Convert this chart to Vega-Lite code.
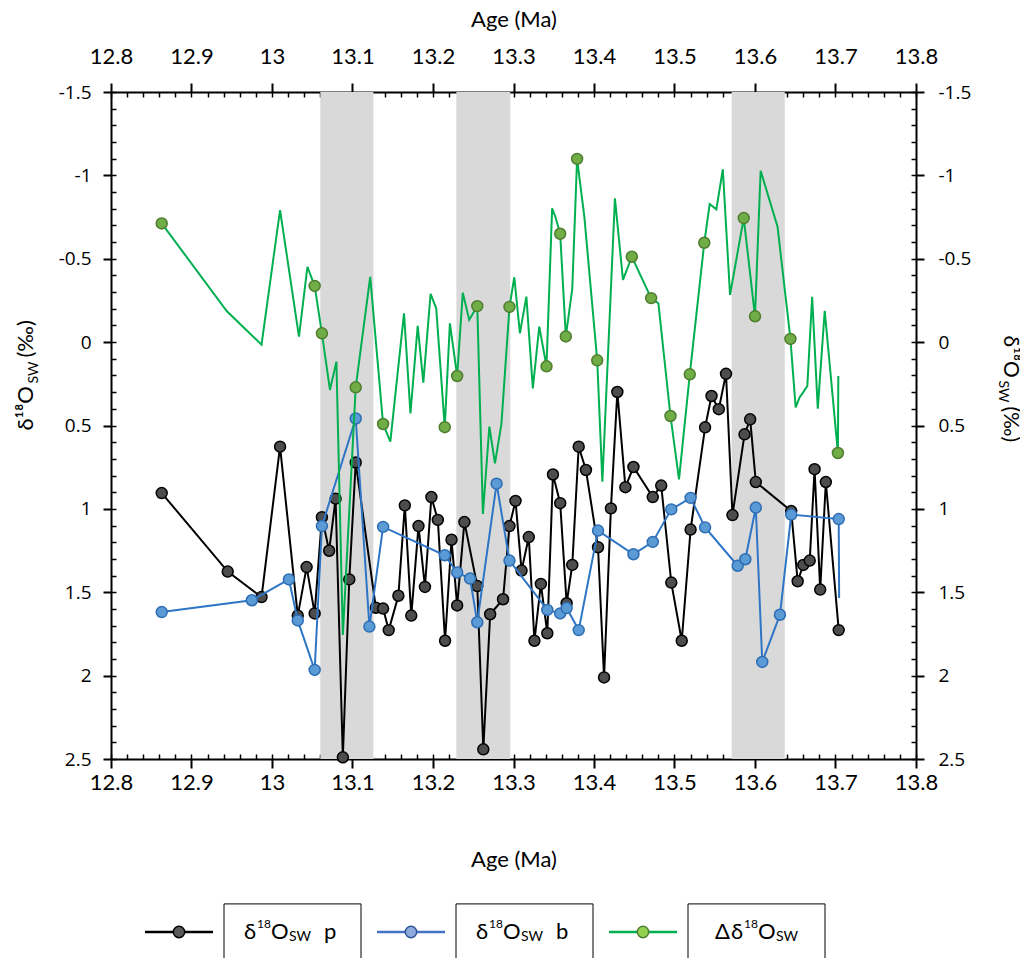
{
  "$schema": "https://vega.github.io/schema/vega-lite/v6.json",
  "background": "white",
  "padding": {"left": 14, "top": 8, "right": 0, "bottom": 0},
  "config": {
    "view": {"stroke": null},
    "axis": {"grid": false, "domainColor": "#000000", "tickColor": "#000000", "labelColor": "#000000", "titleColor": "#000000", "titleFontWeight": "normal"}
  },
  "datasets": {
    "bands": [
      {"start": 13.06, "end": 13.126},
      {"start": 13.229, "end": 13.296},
      {"start": 13.571, "end": 13.637}
    ],
    "p": [
      {"age": 12.863, "v": 0.905}, {"age": 12.945, "v": 1.376}, {"age": 12.987, "v": 1.529},
      {"age": 13.01, "v": 0.627}, {"age": 13.032, "v": 1.64}, {"age": 13.043, "v": 1.349},
      {"age": 13.053, "v": 1.627}, {"age": 13.062, "v": 1.05}, {"age": 13.071, "v": 1.251},
      {"age": 13.079, "v": 0.939}, {"age": 13.088, "v": 2.49}, {"age": 13.096, "v": 1.423},
      {"age": 13.104, "v": 0.722}, {"age": 13.129, "v": 1.593}, {"age": 13.138, "v": 1.598},
      {"age": 13.145, "v": 1.727}, {"age": 13.157, "v": 1.521}, {"age": 13.165, "v": 0.979},
      {"age": 13.173, "v": 1.64}, {"age": 13.182, "v": 1.103}, {"age": 13.19, "v": 1.468},
      {"age": 13.198, "v": 0.929}, {"age": 13.206, "v": 1.066}, {"age": 13.215, "v": 1.791},
      {"age": 13.223, "v": 1.185}, {"age": 13.23, "v": 1.579}, {"age": 13.239, "v": 1.079},
      {"age": 13.255, "v": 1.463}, {"age": 13.2625, "v": 2.442}, {"age": 13.271, "v": 1.632},
      {"age": 13.287, "v": 1.542}, {"age": 13.295, "v": 1.103}, {"age": 13.3025, "v": 0.952},
      {"age": 13.31, "v": 1.37}, {"age": 13.319, "v": 1.169}, {"age": 13.326, "v": 1.791},
      {"age": 13.334, "v": 1.45}, {"age": 13.342, "v": 1.746}, {"age": 13.349, "v": 0.794},
      {"age": 13.358, "v": 0.966}, {"age": 13.366, "v": 1.566}, {"age": 13.373, "v": 1.336},
      {"age": 13.381, "v": 0.627}, {"age": 13.39, "v": 0.767}, {"age": 13.405, "v": 1.23},
      {"age": 13.4125, "v": 2.011}, {"age": 13.421, "v": 0.997}, {"age": 13.429, "v": 0.299},
      {"age": 13.439, "v": 0.87}, {"age": 13.449, "v": 0.749}, {"age": 13.473, "v": 0.929},
      {"age": 13.4835, "v": 0.86}, {"age": 13.496, "v": 1.442}, {"age": 13.509, "v": 1.791},
      {"age": 13.52, "v": 1.124}, {"age": 13.538, "v": 0.511}, {"age": 13.546, "v": 0.323},
      {"age": 13.555, "v": 0.402}, {"age": 13.564, "v": 0.19}, {"age": 13.572, "v": 1.037},
      {"age": 13.587, "v": 0.553}, {"age": 13.594, "v": 0.463}, {"age": 13.601, "v": 0.839},
      {"age": 13.645, "v": 1.013}, {"age": 13.653, "v": 1.434}, {"age": 13.66, "v": 1.336},
      {"age": 13.668, "v": 1.31}, {"age": 13.674, "v": 0.762}, {"age": 13.681, "v": 1.484},
      {"age": 13.688, "v": 0.839}, {"age": 13.704, "v": 1.727}
    ],
    "b": [
      {"age": 12.863, "v": 1.619}, {"age": 12.975, "v": 1.548}, {"age": 13.021, "v": 1.423},
      {"age": 13.032, "v": 1.669}, {"age": 13.053, "v": 1.966}, {"age": 13.062, "v": 1.103},
      {"age": 13.104, "v": 0.458}, {"age": 13.121, "v": 1.706}, {"age": 13.138, "v": 1.108},
      {"age": 13.2146, "v": 1.278}, {"age": 13.23, "v": 1.381}, {"age": 13.246, "v": 1.418},
      {"age": 13.255, "v": 1.68}, {"age": 13.279, "v": 0.849}, {"age": 13.295, "v": 1.31},
      {"age": 13.342, "v": 1.606}, {"age": 13.358, "v": 1.627}, {"age": 13.366, "v": 1.595},
      {"age": 13.381, "v": 1.727}, {"age": 13.405, "v": 1.13}, {"age": 13.449, "v": 1.272},
      {"age": 13.473, "v": 1.198}, {"age": 13.496, "v": 1.003}, {"age": 13.52, "v": 0.934},
      {"age": 13.538, "v": 1.111}, {"age": 13.5785, "v": 1.341}, {"age": 13.588, "v": 1.302},
      {"age": 13.601, "v": 0.992}, {"age": 13.609, "v": 1.918}, {"age": 13.631, "v": 1.635},
      {"age": 13.645, "v": 1.034}, {"age": 13.704, "v": 1.061}
    ],
    "bline": [
      {"age": 12.863, "v": 1.619}, {"age": 12.975, "v": 1.548}, {"age": 13.021, "v": 1.423},
      {"age": 13.032, "v": 1.669}, {"age": 13.053, "v": 1.966}, {"age": 13.062, "v": 1.103},
      {"age": 13.104, "v": 0.458}, {"age": 13.121, "v": 1.706}, {"age": 13.138, "v": 1.108},
      {"age": 13.2146, "v": 1.278}, {"age": 13.23, "v": 1.381}, {"age": 13.246, "v": 1.418},
      {"age": 13.255, "v": 1.68}, {"age": 13.279, "v": 0.849}, {"age": 13.295, "v": 1.31},
      {"age": 13.342, "v": 1.606}, {"age": 13.358, "v": 1.627}, {"age": 13.366, "v": 1.595},
      {"age": 13.381, "v": 1.727}, {"age": 13.405, "v": 1.13}, {"age": 13.449, "v": 1.272},
      {"age": 13.473, "v": 1.198}, {"age": 13.496, "v": 1.003}, {"age": 13.52, "v": 0.934},
      {"age": 13.538, "v": 1.111}, {"age": 13.5785, "v": 1.341}, {"age": 13.588, "v": 1.302},
      {"age": 13.601, "v": 0.992}, {"age": 13.609, "v": 1.918}, {"age": 13.631, "v": 1.635},
      {"age": 13.645, "v": 1.034}, {"age": 13.704, "v": 1.061}, {"age": 13.7045, "v": 1.534}
    ],
    "dline": [
      {"age": 12.863, "v": -0.712}, {"age": 12.944, "v": -0.185}, {"age": 12.987, "v": 0.015},
      {"age": 13.01, "v": -0.792}, {"age": 13.0335, "v": -0.033}, {"age": 13.044, "v": -0.452},
      {"age": 13.053, "v": -0.337}, {"age": 13.062, "v": -0.053}, {"age": 13.072, "v": 0.287},
      {"age": 13.08, "v": 0.117}, {"age": 13.088, "v": 1.756}, {"age": 13.104, "v": 0.271},
      {"age": 13.122, "v": -0.392}, {"age": 13.138, "v": 0.491}, {"age": 13.147, "v": 0.597},
      {"age": 13.164, "v": -0.173}, {"age": 13.172, "v": 0.427}, {"age": 13.181, "v": -0.098},
      {"age": 13.188, "v": 0.243}, {"age": 13.197, "v": -0.289}, {"age": 13.204, "v": -0.203},
      {"age": 13.2146, "v": 0.51}, {"age": 13.221, "v": -0.113}, {"age": 13.23, "v": 0.203},
      {"age": 13.237, "v": -0.296}, {"age": 13.245, "v": -0.133}, {"age": 13.255, "v": -0.216},
      {"age": 13.262, "v": 1.03}, {"age": 13.27, "v": 0.507}, {"age": 13.277, "v": 0.727},
      {"age": 13.285, "v": 0.49}, {"age": 13.295, "v": -0.211}, {"age": 13.301, "v": -0.389},
      {"age": 13.308, "v": -0.053}, {"age": 13.316, "v": -0.273}, {"age": 13.324, "v": 0.277},
      {"age": 13.332, "v": -0.093}, {"age": 13.341, "v": 0.145}, {"age": 13.348, "v": -0.802},
      {"age": 13.352, "v": -0.752}, {"age": 13.358, "v": -0.65}, {"age": 13.365, "v": -0.034},
      {"age": 13.373, "v": -0.32}, {"age": 13.379, "v": -1.099}, {"age": 13.388, "v": -0.752},
      {"age": 13.404, "v": 0.109}, {"age": 13.4104, "v": 0.837}, {"age": 13.426, "v": -0.862},
      {"age": 13.436, "v": -0.373}, {"age": 13.447, "v": -0.512}, {"age": 13.471, "v": -0.264},
      {"age": 13.48, "v": -0.233}, {"age": 13.495, "v": 0.443}, {"age": 13.5056, "v": 0.823},
      {"age": 13.519, "v": 0.193}, {"age": 13.537, "v": -0.596}, {"age": 13.5437, "v": -0.828},
      {"age": 13.552, "v": -0.796}, {"age": 13.56, "v": -1.036}, {"age": 13.569, "v": -0.283},
      {"age": 13.586, "v": -0.744}, {"age": 13.6, "v": -0.155}, {"age": 13.607, "v": -1.028},
      {"age": 13.628, "v": -0.692}, {"age": 13.644, "v": -0.019}, {"age": 13.6505, "v": 0.391},
      {"age": 13.6555, "v": 0.33}, {"age": 13.66, "v": 0.3}, {"age": 13.665, "v": 0.263},
      {"age": 13.671, "v": -0.272}, {"age": 13.678, "v": 0.399}, {"age": 13.6866, "v": -0.188},
      {"age": 13.703, "v": 0.665}, {"age": 13.7035, "v": 0.203}
    ],
    "dpts": [
      {"age": 12.863, "v": -0.712}, {"age": 13.053, "v": -0.337}, {"age": 13.062, "v": -0.053},
      {"age": 13.104, "v": 0.271}, {"age": 13.138, "v": 0.491}, {"age": 13.2146, "v": 0.51},
      {"age": 13.23, "v": 0.203}, {"age": 13.255, "v": -0.216}, {"age": 13.295, "v": -0.211},
      {"age": 13.341, "v": 0.145}, {"age": 13.358, "v": -0.65}, {"age": 13.365, "v": -0.034},
      {"age": 13.379, "v": -1.099}, {"age": 13.404, "v": 0.109}, {"age": 13.447, "v": -0.512},
      {"age": 13.471, "v": -0.264}, {"age": 13.495, "v": 0.443}, {"age": 13.519, "v": 0.193},
      {"age": 13.537, "v": -0.596}, {"age": 13.586, "v": -0.744}, {"age": 13.6, "v": -0.155},
      {"age": 13.644, "v": -0.019}, {"age": 13.703, "v": 0.665}
    ],
    "legend": [
      {"series": "p", "pre": "", "suf": "p"},
      {"series": "b", "pre": "", "suf": "b"},
      {"series": "d", "pre": "Δ", "suf": ""}
    ]
  },
  "spacing": 31,
  "vconcat": [
    {
      "width": 805,
      "height": 667,
      "resolve": {"axis": {"x": "independent", "y": "independent"}},
      "layer": [
        {
          "data": {"name": "bands"},
          "mark": {"type": "rect", "color": "#D9D9D9"},
          "encoding": {
            "x": {"field": "start", "type": "quantitative", "scale": {"domain": [12.8, 13.8], "nice": false, "zero": false}, "axis": null},
            "x2": {"field": "end"}
          }
        },
        {
          "data": {"name": "p"},
          "mark": {"type": "line", "color": "#000000", "strokeWidth": 2},
          "encoding": {
            "x": {"field": "age", "type": "quantitative", "scale": {"domain": [12.8, 13.8], "nice": false, "zero": false},
              "axis": {"orient": "top", "values": [12.8, 12.9, 13, 13.1, 13.2, 13.3, 13.4, 13.5, 13.6, 13.7, 13.8], "format": "~g",
                "domainWidth": 2, "tickSize": 9, "tickWidth": 2, "labelFont": "Lato", "labelFontSize": 22, "labelPadding": 15,
                "labelFlush": false, "labelOverlap": false, "labelBound": false,
                "title": "Age (Ma)", "titleFont": "Lato", "titleFontSize": 22, "titlePadding": 14}},
            "y": {"field": "v", "type": "quantitative", "scale": {"domain": [-1.5, 2.5], "nice": false, "zero": false, "reverse": true},
              "axis": {"orient": "right", "values": [-1.5, -1, -0.5, 0, 0.5, 1, 1.5, 2, 2.5],
                "labelExpr": "datum.value < 0 ? '-' + format(-datum.value, '~g') : format(datum.value, '~g')",
                "domainWidth": 2, "tickSize": 8, "tickWidth": 2, "labelFont": "Open Sans", "labelFontSize": 19, "labelPadding": 14,
                "labelFlush": false, "labelOverlap": false, "labelBound": false,
                "title": "δ¹⁸O", "titleFont": "Lato", "titleFontSize": 21, "titleAngle": 90, "titleAlign": "left", "titleBaseline": "alphabetic",
                "titleX": 87, "titleY": 243}}
          }
        },
        {
          "data": {"name": "p"},
          "mark": {"type": "point", "filled": true, "fill": "#4D4D4D", "stroke": "#000000", "strokeWidth": 1.5, "size": 120, "opacity": 1},
          "encoding": {
            "x": {"field": "age", "type": "quantitative", "scale": {"domain": [12.8, 13.8], "nice": false, "zero": false},
              "axis": {"orient": "bottom", "values": [12.8, 12.9, 13, 13.1, 13.2, 13.3, 13.4, 13.5, 13.6, 13.7, 13.8], "format": "~g",
                "domainWidth": 2, "tickSize": 9, "tickWidth": 2, "labelFont": "Lato", "labelFontSize": 22, "labelPadding": 4,
                "labelFlush": false, "labelOverlap": false, "labelBound": false,
                "title": "Age (Ma)", "titleFont": "Lato", "titleFontSize": 22, "titlePadding": 56}},
            "y": {"field": "v", "type": "quantitative", "scale": {"domain": [-1.5, 2.5], "nice": false, "zero": false, "reverse": true},
              "axis": {"orient": "left", "values": [-1.5, -1, -0.5, 0, 0.5, 1, 1.5, 2, 2.5],
                "labelExpr": "datum.value < 0 ? '-' + format(-datum.value, '~g') : format(datum.value, '~g')",
                "domainWidth": 2, "tickSize": 8, "tickWidth": 2, "labelFont": "Open Sans", "labelFontSize": 19, "labelPadding": 12,
                "labelFlush": false, "labelOverlap": false, "labelBound": false,
                "title": "δ¹⁸O", "titleFont": "Lato", "titleFontSize": 22, "titleAngle": -90, "titleAlign": "left", "titleBaseline": "alphabetic",
                "titleX": -79, "titleY": 338}}
          }
        },
        {
          "data": {"name": "bline"},
          "mark": {"type": "line", "color": "#2E75C6", "strokeWidth": 2},
          "encoding": {
            "x": {"field": "age", "type": "quantitative", "scale": {"domain": [12.8, 13.8], "nice": false, "zero": false},
              "axis": {"orient": "top", "values": [12.8, 12.82, 12.84, 12.86, 12.88, 12.9, 12.92, 12.94, 12.96, 12.98, 13, 13.02, 13.04, 13.06, 13.08, 13.1, 13.12, 13.14, 13.16, 13.18, 13.2, 13.22, 13.24, 13.26, 13.28, 13.3, 13.32, 13.34, 13.36, 13.38, 13.4, 13.42, 13.44, 13.46, 13.48, 13.5, 13.52, 13.54, 13.56, 13.58, 13.6, 13.62, 13.64, 13.66, 13.68, 13.7, 13.72, 13.74, 13.76, 13.78, 13.8],
                "domain": false, "labels": false, "tickSize": -5, "tickWidth": 1.5, "title": null}},
            "y": {"field": "v", "type": "quantitative", "scale": {"domain": [-1.5, 2.5], "nice": false, "zero": false, "reverse": true},
              "axis": {"orient": "right", "values": [-1.5, -1.4, -1.3, -1.2, -1.1, -1, -0.9, -0.8, -0.7, -0.6, -0.5, -0.4, -0.3, -0.2, -0.1, 0, 0.1, 0.2, 0.3, 0.4, 0.5, 0.6, 0.7, 0.8, 0.9, 1, 1.1, 1.2, 1.3, 1.4, 1.5, 1.6, 1.7, 1.8, 1.9, 2, 2.1, 2.2, 2.3, 2.4, 2.5],
                "domain": false, "labels": false, "tickSize": -5, "tickWidth": 1.5,
                "title": "SW", "titleFont": "Lato", "titleFontSize": 14, "titleAngle": 90, "titleAlign": "left", "titleBaseline": "alphabetic",
                "titleX": 82, "titleY": 288}}
          }
        },
        {
          "data": {"name": "b"},
          "mark": {"type": "point", "filled": true, "fill": "#5B9BD5", "stroke": "#2E6DB4", "strokeWidth": 1.5, "size": 120, "opacity": 1},
          "encoding": {
            "x": {"field": "age", "type": "quantitative", "scale": {"domain": [12.8, 13.8], "nice": false, "zero": false},
              "axis": {"orient": "bottom", "values": [12.8, 12.82, 12.84, 12.86, 12.88, 12.9, 12.92, 12.94, 12.96, 12.98, 13, 13.02, 13.04, 13.06, 13.08, 13.1, 13.12, 13.14, 13.16, 13.18, 13.2, 13.22, 13.24, 13.26, 13.28, 13.3, 13.32, 13.34, 13.36, 13.38, 13.4, 13.42, 13.44, 13.46, 13.48, 13.5, 13.52, 13.54, 13.56, 13.58, 13.6, 13.62, 13.64, 13.66, 13.68, 13.7, 13.72, 13.74, 13.76, 13.78, 13.8],
                "domain": false, "labels": false, "tickSize": -5, "tickWidth": 1.5, "title": null}},
            "y": {"field": "v", "type": "quantitative", "scale": {"domain": [-1.5, 2.5], "nice": false, "zero": false, "reverse": true},
              "axis": {"orient": "left", "values": [-1.5, -1.4, -1.3, -1.2, -1.1, -1, -0.9, -0.8, -0.7, -0.6, -0.5, -0.4, -0.3, -0.2, -0.1, 0, 0.1, 0.2, 0.3, 0.4, 0.5, 0.6, 0.7, 0.8, 0.9, 1, 1.1, 1.2, 1.3, 1.4, 1.5, 1.6, 1.7, 1.8, 1.9, 2, 2.1, 2.2, 2.3, 2.4, 2.5],
                "domain": false, "labels": false, "tickSize": -5, "tickWidth": 1.5,
                "title": "SW", "titleFont": "Lato", "titleFontSize": 14, "titleAngle": -90, "titleAlign": "left", "titleBaseline": "alphabetic",
                "titleX": -74, "titleY": 291}}
          }
        },
        {
          "data": {"name": "dline"},
          "mark": {"type": "line", "color": "#00B050", "strokeWidth": 2},
          "encoding": {
            "x": {"field": "age", "type": "quantitative", "scale": {"domain": [12.8, 13.8], "nice": false, "zero": false}, "axis": null},
            "y": {"field": "v", "type": "quantitative", "scale": {"domain": [-1.5, 2.5], "nice": false, "zero": false, "reverse": true},
              "axis": {"orient": "right", "domain": false, "labels": false, "ticks": false,
                "title": "(‰)", "titleFont": "Lato", "titleFontSize": 21, "titleAngle": 90, "titleAlign": "left", "titleBaseline": "alphabetic",
                "titleX": 87, "titleY": 314}}
          }
        },
        {
          "data": {"name": "dpts"},
          "mark": {"type": "point", "filled": true, "fill": "#70AD47", "stroke": "#4E7D2E", "strokeWidth": 1.5, "size": 120, "opacity": 1},
          "encoding": {
            "x": {"field": "age", "type": "quantitative", "scale": {"domain": [12.8, 13.8], "nice": false, "zero": false}, "axis": null},
            "y": {"field": "v", "type": "quantitative", "scale": {"domain": [-1.5, 2.5], "nice": false, "zero": false, "reverse": true},
              "axis": {"orient": "left", "domain": false, "labels": false, "ticks": false,
                "title": "(‰)", "titleFont": "Lato", "titleFontSize": 22, "titleAngle": -90, "titleAlign": "left", "titleBaseline": "alphabetic",
                "titleX": -79, "titleY": 265}}
          }
        }
      ]
    },
    {
      "width": 696,
      "height": 54,
      "data": {"name": "legend"},
      "encoding": {
        "x": {"field": "series", "type": "nominal", "sort": null, "scale": {"type": "band", "paddingInner": 0, "paddingOuter": 0}, "axis": null},
        "y": {"datum": 0, "type": "quantitative", "scale": {"domain": [-1, 1]}, "axis": null}
      },
      "layer": [
        {
          "mark": {"type": "rule", "strokeWidth": 2.5, "xOffset": -82, "x2Offset": -14},
          "encoding": {
            "x2": {"field": "series"},
            "color": {"field": "series", "type": "nominal", "scale": {"domain": ["p", "b", "d"], "range": ["#000000", "#4472C4", "#00B050"]}, "legend": null}
          }
        },
        {
          "mark": {"type": "point", "filled": true, "size": 130, "strokeWidth": 1.5, "opacity": 1, "xOffset": -48},
          "encoding": {
            "fill": {"field": "series", "type": "nominal", "scale": {"domain": ["p", "b", "d"], "range": ["#595959", "#8FAADC", "#92D050"]}, "legend": null},
            "stroke": {"field": "series", "type": "nominal", "scale": {"domain": ["p", "b", "d"], "range": ["#000000", "#2F5597", "#507E32"]}, "legend": null}
          }
        },
        {
          "mark": {"type": "point", "shape": "M-1,0.41V-0.41H1V0.41", "filled": false, "size": 18769, "stroke": "#000000", "strokeWidth": 1, "opacity": 1, "xOffset": 65.5}
        },
        {
          "mark": {"type": "text", "font": "Lato", "fontSize": 22, "color": "#000000", "align": "right", "baseline": "alphabetic", "dy": 7, "xOffset": {"expr": "datum.pre ? 39 : 16"}},
          "encoding": {"text": {"field": "pre"}}
        },
        {
          "mark": {"type": "text", "text": "δ", "font": "Lato", "fontSize": 22, "color": "#000000", "align": "left", "baseline": "alphabetic", "dy": 7, "xOffset": {"expr": "datum.pre ? 40 : 17"}}
        },
        {
          "mark": {"type": "text", "text": "18", "font": "Lato", "fontSize": 12, "color": "#000000", "align": "left", "baseline": "alphabetic", "dy": -4, "xOffset": {"expr": "datum.pre ? 53 : 30"}}
        },
        {
          "mark": {"type": "text", "text": "O", "font": "Lato", "fontSize": 22, "color": "#000000", "align": "left", "baseline": "alphabetic", "dy": 7, "xOffset": {"expr": "datum.pre ? 67 : 44"}}
        },
        {
          "mark": {"type": "text", "text": "SW", "font": "Lato", "fontSize": 14, "color": "#000000", "align": "left", "baseline": "alphabetic", "dy": 9, "xOffset": {"expr": "datum.pre ? 85 : 62"}}
        },
        {
          "mark": {"type": "text", "font": "Lato", "fontSize": 22, "color": "#000000", "align": "left", "baseline": "alphabetic", "dy": 7, "xOffset": 97},
          "encoding": {"text": {"field": "suf"}}
        }
      ]
    }
  ]
}
